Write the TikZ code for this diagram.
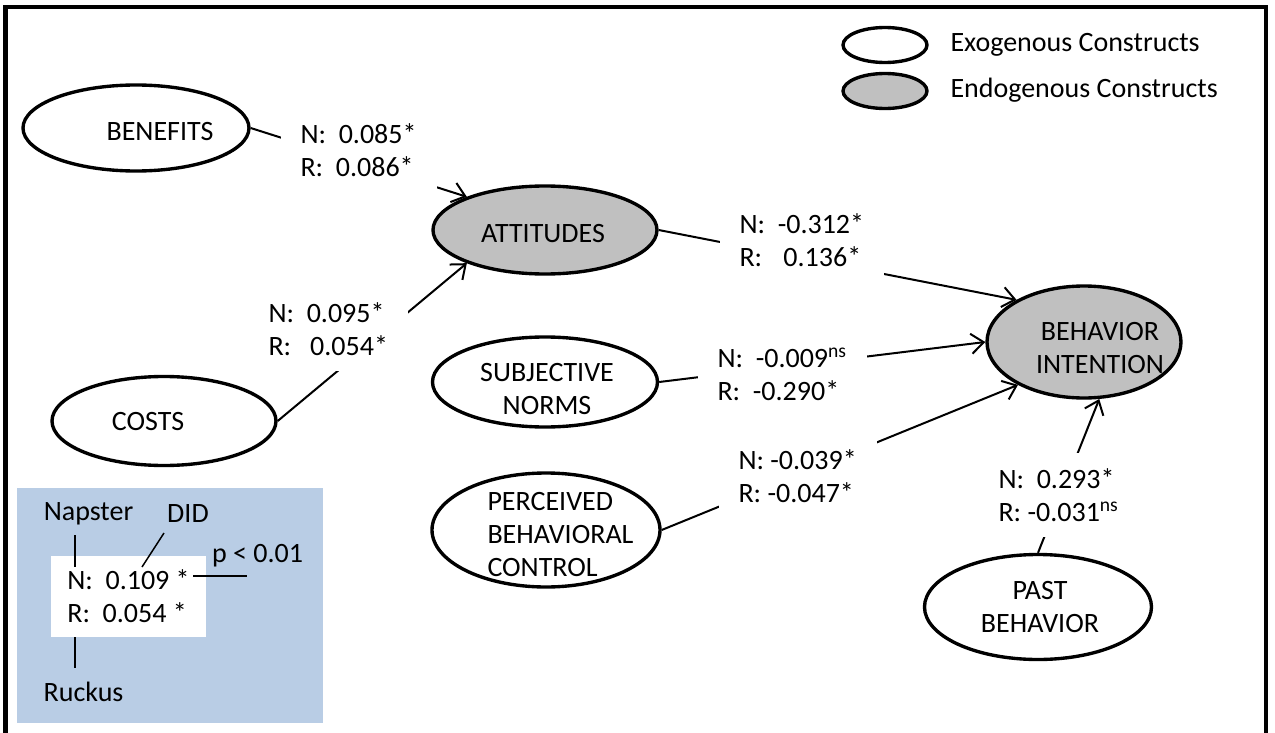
\documentclass[tikz,border=0pt]{standalone}
\usepackage{fontspec}
\setmainfont{Carlito}
\usetikzlibrary{arrows.meta,shapes.geometric}
\definecolor{endogray}{RGB}{192,192,192}
\definecolor{keyblue}{RGB}{185,205,229}
\tikzset{
  construct/.style={ellipse, draw, line width=1.35pt, inner sep=0pt},
  exo/.style={construct, fill=white},
  endo/.style={construct, fill=endogray},
  coef/.style={fill=white, align=left, anchor=west, inner xsep=8pt, inner ysep=6pt},
  effect/.style={line width=0.8pt, -{Straight Barb[length=5pt,width=8pt]}},
  keyline/.style={line width=0.6pt}
}
\begin{document}
\begin{tikzpicture}[x=0.4pt,y=-0.4pt,font=\fontsize{11.2}{13.2}\selectfont]
  \useasboundingbox (0,0) rectangle (1275,733);
  \draw[line width=1.6pt] (5.5,733) -- (5.5,7) -- (1265.5,7) -- (1265.5,733);

  \node[exo, minimum width=33.6pt, minimum height=14pt] (exo-key) at (885,45) {};
  \node[endo, minimum width=33.6pt, minimum height=14pt] (endo-key) at (885,91) {};
  \node[anchor=west, inner sep=0pt] (exo-txt) at (950,45) {Exogenous Constructs};
  \node[anchor=west, inner sep=0pt] (endo-txt) at (950,90) {Endogenous Constructs};

  \node[exo, minimum width=90.4pt, minimum height=34.4pt] (ben) at (136,128) {};
  \node[exo, minimum width=89.6pt, minimum height=35.6pt] (costs) at (164,421) {};
  \node[endo, minimum width=89.6pt, minimum height=35.2pt] (att) at (545,230) {};
  \node[exo, minimum width=90pt, minimum height=36pt] (sn) at (545,382) {};
  \node[exo, minimum width=91.2pt, minimum height=45.6pt] (pbc) at (546,530) {};
  \node[endo, minimum width=77.6pt, minimum height=44.8pt] (bi) at (1084,342) {};
  \node[exo, minimum width=90.8pt, minimum height=42pt] (past) at (1038,607) {};

  \node (ben-t) at (160,132) {BENEFITS};
  \node (costs-t) at (148,422) {COSTS};
  \node (att-t) at (543,234) {ATTITUDES};
  \node[align=center] (sn-t) at (547,389) {SUBJECTIVE\\NORMS};
  \node[align=left, anchor=west, inner sep=0pt] (pbc-t) at (487,535) {PERCEIVED\\BEHAVIORAL\\CONTROL};
  \node[align=center] (bi-t) at (1100,348) {BEHAVIOR\\INTENTION};
  \node[align=center] (past-t) at (1040,607) {PAST\\BEHAVIOR};

  \foreach \from/\to in {ben.east/att.157, costs.east/att.203, att.east/bi.148,
                         sn.east/bi.west, pbc.east/bi.213, past.north/bi.285}
    \draw[effect] (\from) -- (\to);

  \node[coef] (c-ben) at (280,150) {N:\ \ 0.085*\\R:\ \ 0.086*};
  \node[coef] (c-costs) at (248,329) {N:\ \ 0.095*\\R:\ \ \ 0.054*};
  \node[coef] (c-att) at (719,240) {N:\ \ -0.312*\\R:\ \ \phantom{-}0.136*};
  \node[coef] (c-sn) at (697,374) {N:\ \ -0.009\textsuperscript{ns}\\R:\ \ -0.290*};
  \node[coef] (c-pbc) at (718,476) {N: -0.039*\\R: -0.047*};
  \node[coef] (c-past) at (978,495) {N:\ \ 0.293*\\R: -0.031\textsuperscript{ns}};

  \fill[keyblue] (17,488) rectangle (323,723);
  \node[fill=white, minimum width=62pt, minimum height=32.4pt, inner sep=0pt, align=left] (key) at (128.5,596.5) {N:\ \ 0.109 *\\R:\ \ 0.054 *};
  \node (napster) at (88.5,514) {Napster};
  \node (did) at (188,514) {DID};
  \node (pval) at (257.5,556) {p < 0.01};
  \node (ruckus) at (83.5,692) {Ruckus};
  \coordinate (nap-a) at (75,535);
  \coordinate (nap-b) at (75,567);
  \coordinate (did-a) at (164,533);
  \coordinate (did-b) at (142,567);
  \coordinate (p-a) at (193,576);
  \coordinate (p-b) at (247,576);
  \coordinate (ruck-a) at (75,637);
  \coordinate (ruck-b) at (75,668);
  \foreach \a/\b in {nap-a/nap-b, did-a/did-b, p-a/p-b, ruck-a/ruck-b}
    \draw[keyline] (\a) -- (\b);
\end{tikzpicture}
\end{document}
